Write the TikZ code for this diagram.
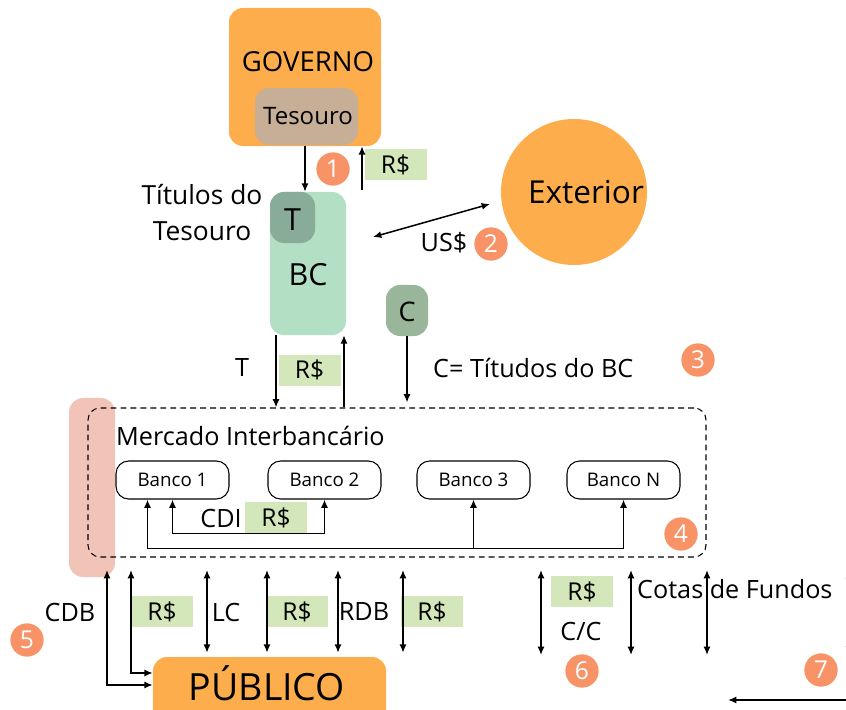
\documentclass[tikz,border=0pt]{standalone}
\usepackage{fontspec}
\setmainfont{Open Sans}
\usetikzlibrary{arrows.meta,positioning}

\definecolor{laranja}{HTML}{FDAD4B}
\definecolor{tesouroC}{HTML}{C7AE96}
\definecolor{verdeBC}{HTML}{B3DFC5}
\definecolor{verdeT}{HTML}{89AC99}
\definecolor{verdeC}{HTML}{99B59A}
\definecolor{verdeR}{HTML}{D3E7BA}
\definecolor{salmao}{HTML}{F79366}
\definecolor{rosa}{HTML}{F2C4B8}

\tikzset{
  caixa/.style={rounded corners=0.42cm, inner sep=0pt},
  banco/.style={draw, line width=0.9pt, rounded corners=0.38cm, minimum width=3.39cm,
    minimum height=1.14cm, font=\fontsize{16}{20}\selectfont},
  reais/.style={fill=verdeR, minimum width=1.86cm, minimum height=0.93cm, inner sep=0pt,
    font=\fontsize{21}{24}\selectfont},
  numero/.style={circle, fill=salmao, text=white, minimum size=1cm, inner sep=0pt,
    font=\fontsize{21}{24}\selectfont},
  rotulo/.style={font=\fontsize{21.5}{26}\selectfont},
  fluxo/.style={line width=1.3pt}
}

\begin{document}
\begin{tikzpicture}[x=0.03cm, y=-0.03cm, >={Latex[length=2.5mm,width=2.1mm]}]
  \useasboundingbox (0,0) rectangle (846,710);
  % governo e tesouro
  \node[caixa, fill=laranja, minimum width=4.56cm, minimum height=4.14cm] (governo) at (305,77) {};
  \node[font=\fontsize{23.5}{28}\selectfont, anchor=base] (govtxt) at (308,72) {GOVERNO};
  \node[caixa, fill=tesouroC, minimum width=3.09cm, minimum height=1.71cm] (tesouro) at (306.5,116.5) {};
  \node[font=\fontsize{20.5}{24}\selectfont, anchor=base] (tesourotxt) at (308,125) {Tesouro};
  % banco central
  \node[caixa, fill=verdeBC, minimum width=2.28cm, minimum height=4.29cm] (bc) at (308,263.5) {};
  \node[font=\fontsize{26}{30}\selectfont, anchor=base] (bctxt) at (308,286) {BC};
  \node[caixa, fill=verdeT, minimum width=1.35cm, minimum height=1.53cm] (tbox) at (292.5,217.5) {};
  \node[font=\fontsize{26}{30}\selectfont, anchor=base] (ttxt) at (292.5,231) {T};
  \node[caixa, fill=verdeC, minimum width=1.26cm, minimum height=1.53cm] (cbox) at (407,310.5) {};
  \node[font=\fontsize{23}{28}\selectfont, anchor=base] (ctxt) at (407,321) {C};
  \node[align=center, font=\fontsize{22.5}{31}\selectfont, anchor=base] (titulos) at (202,241)
    {Títulos do\\Tesouro};
  % exterior
  \node[circle, fill=laranja, minimum size=4.38cm, inner sep=0pt] (exterior) at (574,192) {};
  \node[font=\fontsize{27}{32}\selectfont, anchor=base] (extxt) at (586,204) {Exterior};
  % mercado interbancario
  \node[caixa, fill=rosa, minimum width=1.38cm, minimum height=5.37cm] (rosa) at (92,487.5) {};
  \node[draw, dash pattern=on 5pt off 3.5pt, line width=0.9pt, rounded corners=0.36cm,
    minimum width=18.54cm, minimum height=4.47cm] (mercado) at (397,482.5) {};
  \node[rotulo, anchor=base west, inner sep=0pt] (mercadotxt) at (116,445) {Mercado Interbancário};
  \node[banco] (b1) at (172.5,480) {Banco 1};
  \node[banco] (b2) at (324.5,480) {Banco 2};
  \node[banco] (b3) at (473.5,480) {Banco 3};
  \node[banco] (bN) at (623.5,480) {Banco N};
  % publico
  \node[caixa, fill=laranja, minimum width=6.99cm, minimum height=2.04cm] (publico) at (269.5,691) {};
  \node[font=\fontsize{32}{36}\selectfont, anchor=base] (publicotxt) at (267,700) {PÚBLICO};

  % valores em reais
  \node[reais] (rs1) at (395.5,165) {R\$};
  \node[reais] (rs2) at (309.5,370) {R\$};
  \node[reais] (rs3) at (276,517.5) {R\$};
  \node[reais] (rs4) at (162,611.5) {R\$};
  \node[reais] (rs5) at (297,611.5) {R\$};
  \node[reais] (rs6) at (432,611.5) {R\$};
  \node[reais] (rs7) at (582,591.5) {R\$};

  % rotulos
  \node[rotulo] (uss) at (444,243) {US\$};
  \node[rotulo] (tl) at (242,368) {T};
  \node[rotulo, anchor=west, inner sep=0pt] (cl) at (433,368) {C= Títudos do BC};
  \node[rotulo] (cdi) at (221,518) {CDI};
  \node[rotulo] (cdb) at (70,612) {CDB};
  \node[rotulo] (lc) at (226,612) {LC};
  \node[rotulo] (rdb) at (364,612) {RDB};
  \node[rotulo] (cc) at (581,631) {C/C};
  \node[rotulo, anchor=west, inner sep=0pt] (cotas) at (637,589) {Cotas de Fundos};

  % numeros
  \node[numero] (n1) at (333,169) {1};
  \node[numero] (n2) at (491,244) {2};
  \node[numero] (n3) at (698,360) {3};
  \node[numero] (n4) at (681,534) {4};
  \node[numero] (n5) at (27,640) {5};
  \node[numero] (n6) at (582,671) {6};
  \node[numero] (n7) at (821,670) {7};

  % fluxos governo / BC / exterior
  \draw[fluxo, ->] (governo.south) -- (governo.south |- tbox.north);
  \coordinate (pe1) at (362,190);
  \draw[fluxo, ->] (pe1) -- (pe1 |- governo.south);
  \coordinate (us1) at (373,237);
  \coordinate (us2) at (490,204);
  \draw[fluxo, <->] (us1) -- (us2);
  \draw[fluxo, ->] (bc.south) ++(-32,0) coordinate (bcT) -- (bcT |- mercado.north);
  \draw[fluxo, <-] (bc.south) ++(36,0) coordinate (bcR) -- (bcR |- mercado.north);
  \draw[fluxo, ->] (cbox.south) -- ([yshift=0.15cm]cbox.south |- mercado.north);

  % fluxos entre bancos
  \draw[fluxo, <->] (b1.south) -- ++(0,34) -| (b2.south);
  \draw[fluxo, <->] (b1.south) ++(-25,0) coordinate (lb) -- ++(0,49) coordinate (lb2) -| (bN.south);
  \draw[fluxo, ->] (b3.south |- lb2) -- (b3.south);

  % fluxos com o publico
  \coordinate (cdb1) at (107,570);
  \coordinate (cdb2) at (131,570);
  \draw[fluxo, <->] (cdb1) |- ([yshift=0.18cm]publico.west);
  \draw[fluxo, <->] (cdb2) |- ([yshift=0.54cm]publico.west);
  \foreach \x in {207,267,338,403} {
    \coordinate (topo) at (\x,570);
    \draw[fluxo, <->] (topo) -- ([yshift=0.12cm]topo |- publico.north);
  }
  \foreach \x in {541,631,707,849} {
    \coordinate (topo) at (\x,570);
    \draw[fluxo, <->] (topo) -- ++(0,85);
  }
  \coordinate (fim) at (728,700);
  \draw[fluxo, <-] (fim) -- ++(130,0);
\end{tikzpicture}
\end{document}
